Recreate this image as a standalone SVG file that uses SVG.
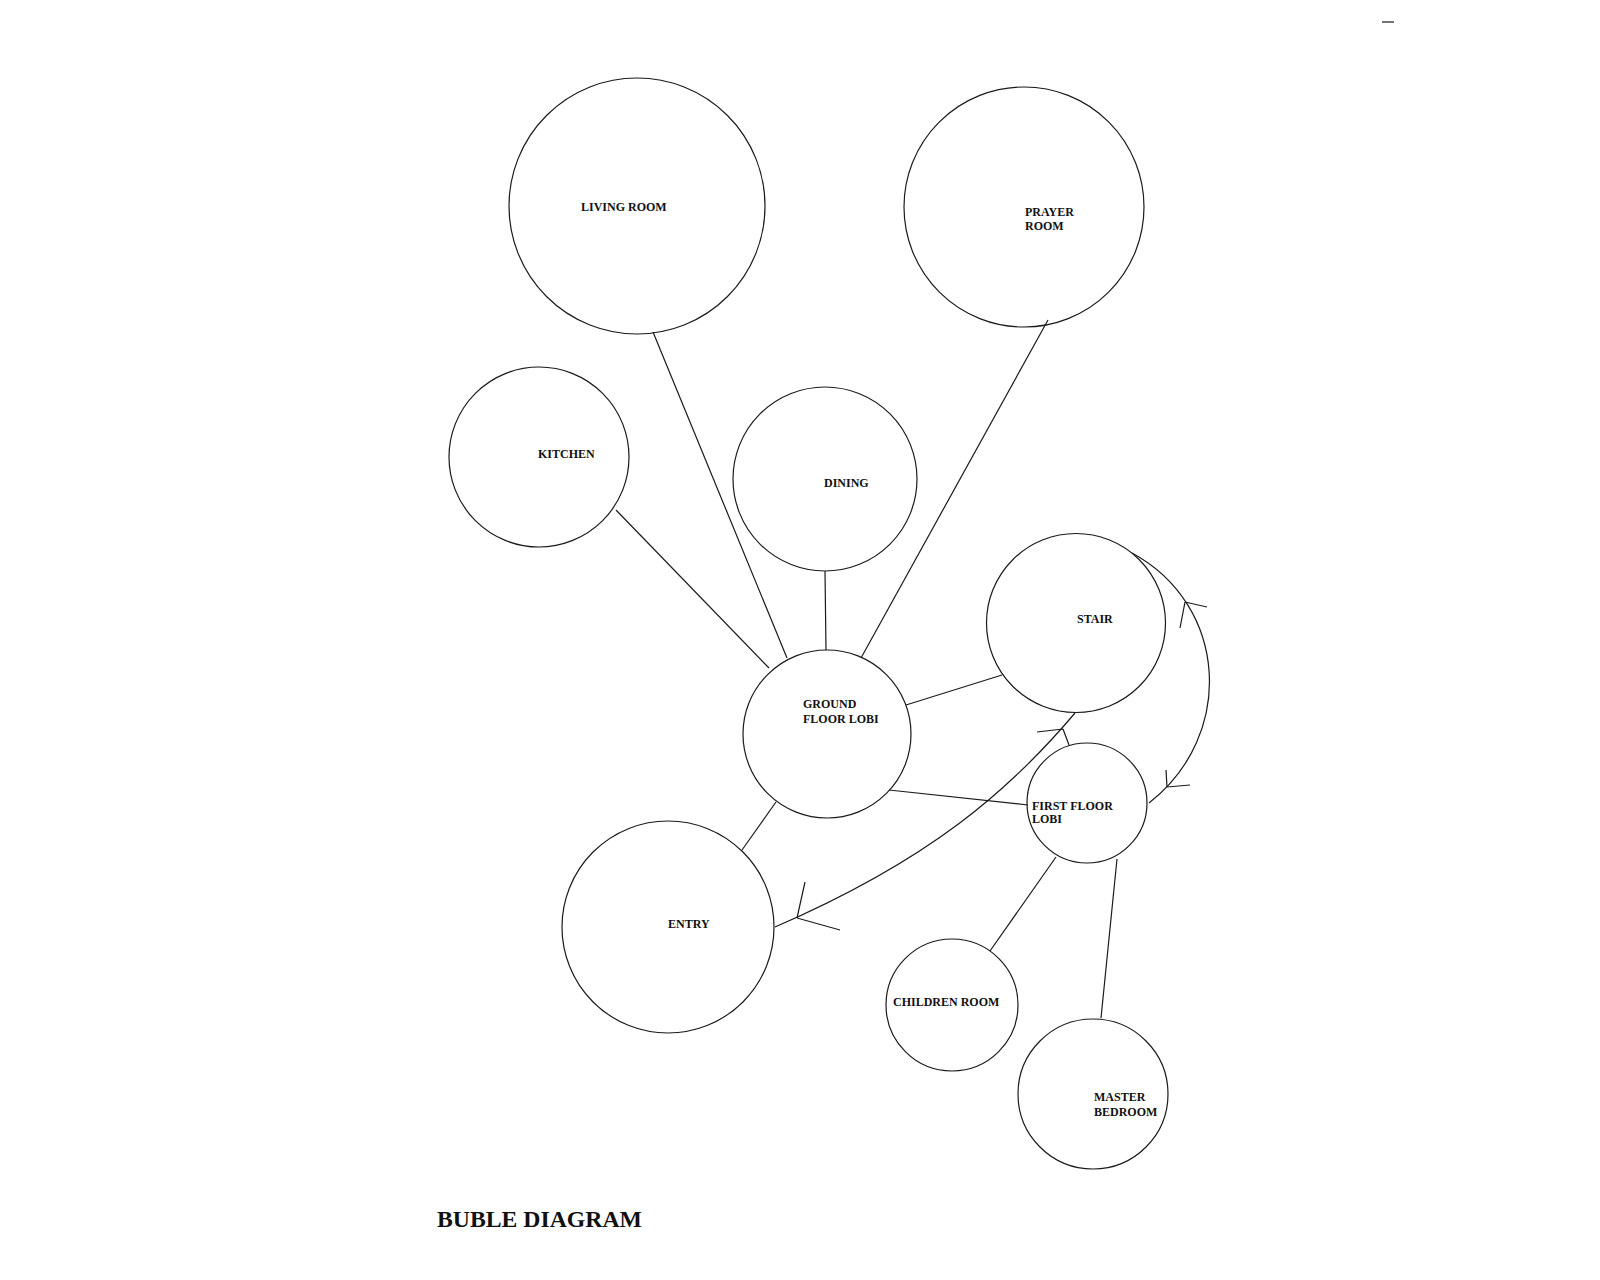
<svg xmlns="http://www.w3.org/2000/svg" width="1600" height="1280" viewBox="0 0 1600 1280">
<style>
.b{fill:none;stroke:#1a1a1a;stroke-width:1.2}
.c{fill:none;stroke:#1a1a1a;stroke-width:1.2}
.t{font-family:"Liberation Serif","Times New Roman",serif;font-weight:bold;font-size:12px;fill:#111}
.title{font-family:"Liberation Serif","Times New Roman",serif;font-weight:bold;font-size:23px;fill:#111}
</style>
<rect width="1600" height="1280" fill="#fff"/>
<g id="connectors">
<line class="c" x1="653" y1="332" x2="787" y2="658"/>
<line class="c" x1="1048" y1="320" x2="861" y2="658"/>
<line class="c" x1="616" y1="510" x2="769" y2="668"/>
<line class="c" x1="825" y1="571" x2="826" y2="650"/>
<line class="c" x1="906" y1="705" x2="1002" y2="675"/>
<line class="c" x1="889" y1="790" x2="1028" y2="805"/>
<line class="c" x1="776" y1="802" x2="742" y2="850"/>
<line class="c" x1="1056" y1="857" x2="990" y2="951"/>
<line class="c" x1="1117" y1="859" x2="1101" y2="1018"/>
<path class="c" d="M1132,553 C1228,605 1236,735 1149,803"/>
<path class="c" d="M1185,602 L1207,607 M1185,602 L1180,628"/>
<path class="c" d="M1167,787 L1166,770 M1167,787 L1190,785"/>
<path class="c" d="M1075,713 C1010,790 930,860 775,927"/>
<path class="c" d="M797,918 L805,882 M797,918 L840,930"/>
<path class="c" d="M1063,729 L1037,732 M1063,729 L1069,745"/>
<line class="c" x1="1382" y1="22" x2="1394" y2="22"/>
</g>
<g id="living-room"><circle class="b" cx="637" cy="206" r="128"/><text class="t" x="581" y="211">LIVING ROOM</text></g>
<g id="prayer-room"><circle class="b" cx="1024" cy="207" r="120"/><text class="t" x="1025" y="216">PRAYER</text><text class="t" x="1025" y="230">ROOM</text></g>
<g id="kitchen"><circle class="b" cx="539" cy="457" r="90"/><text class="t" x="538" y="458">KITCHEN</text></g>
<g id="dining"><circle class="b" cx="825" cy="479" r="92"/><text class="t" x="824" y="487">DINING</text></g>
<g id="stair"><circle class="b" cx="1076" cy="623" r="89.5"/><text class="t" x="1077" y="623">STAIR</text></g>
<g id="ground-floor-lobi"><circle class="b" cx="827" cy="734" r="84"/><text class="t" x="803" y="708">GROUND</text><text class="t" x="803" y="723">FLOOR LOBI</text></g>
<g id="first-floor-lobi"><circle class="b" cx="1087" cy="803" r="60"/><text class="t" x="1032" y="810">FIRST FLOOR</text><text class="t" x="1032" y="823">LOBI</text></g>
<g id="entry"><circle class="b" cx="668" cy="927" r="106"/><text class="t" x="668" y="928">ENTRY</text></g>
<g id="children-room"><circle class="b" cx="952" cy="1005" r="66"/><text class="t" x="893" y="1006">CHILDREN ROOM</text></g>
<g id="master-bedroom"><circle class="b" cx="1093" cy="1094" r="75"/><text class="t" x="1094" y="1101">MASTER</text><text class="t" x="1094" y="1116">BEDROOM</text></g>
<text class="title" x="437" y="1227" textLength="205" lengthAdjust="spacingAndGlyphs">BUBLE DIAGRAM</text>
</svg>
